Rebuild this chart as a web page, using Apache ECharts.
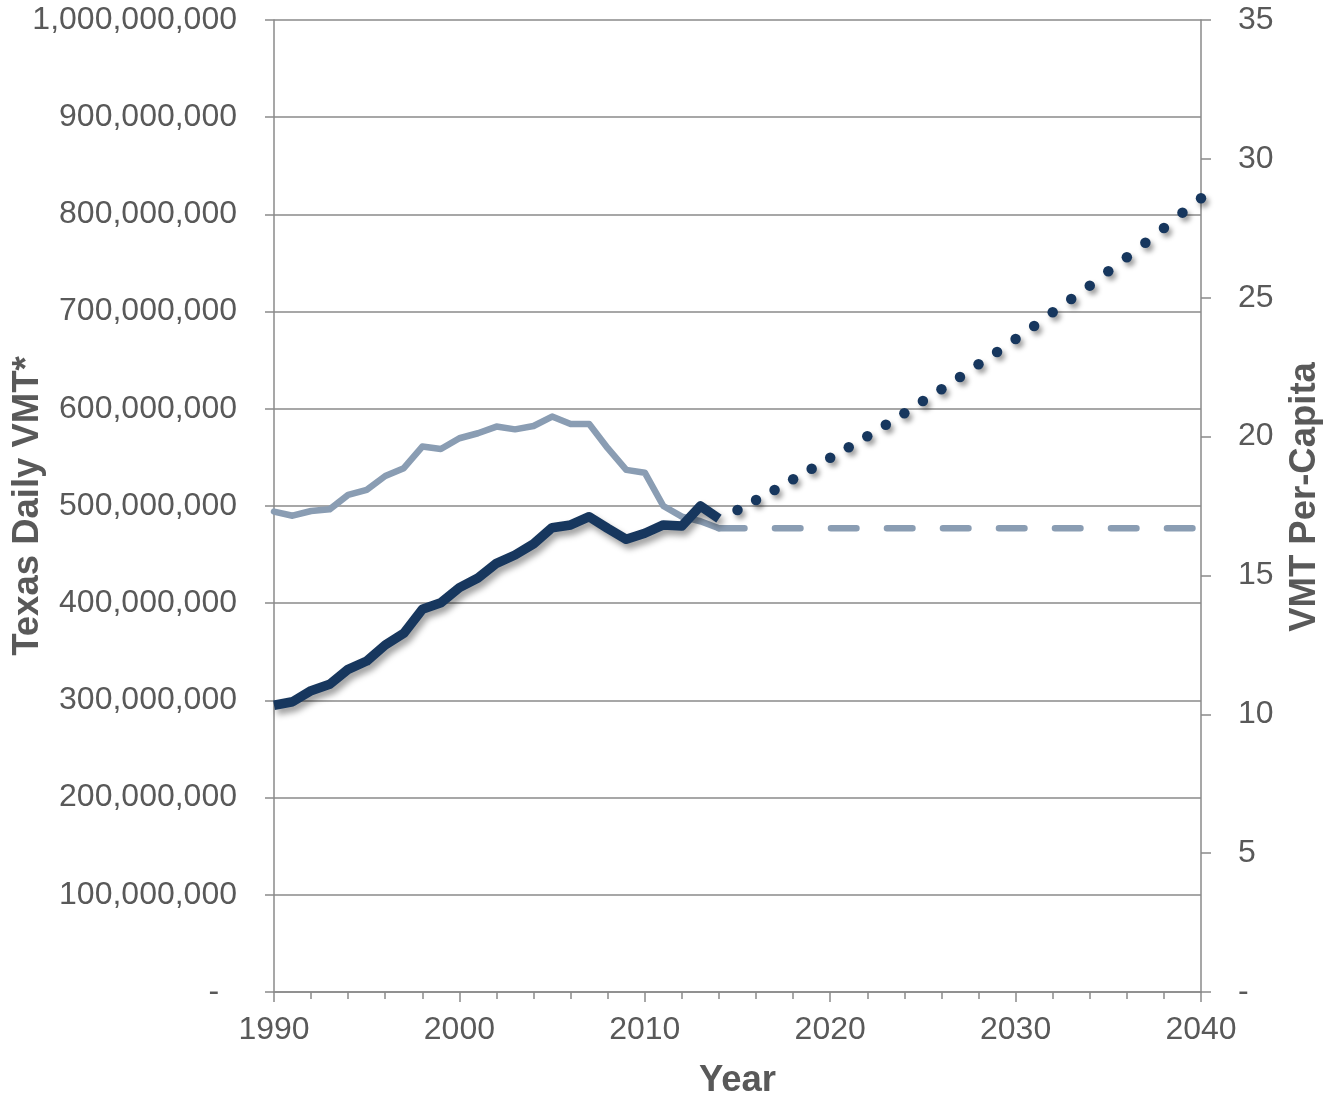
<!DOCTYPE html>
<html>
<head>
<meta charset="utf-8">
<title>Texas Daily VMT</title>
<script src="https://cdn.jsdelivr.net/npm/echarts@6/dist/echarts.min.js"></script>
<style>
  html, body { margin: 0; padding: 0; background: #ffffff; }
  #chart { width: 1326px; height: 1095px; }
</style>
</head>
<body>
<div id="chart"></div>
<script>
// Historical years
const years = [1990, 1991, 1992, 1993, 1994, 1995, 1996, 1997, 1998, 1999,
               2000, 2001, 2002, 2003, 2004, 2005, 2006, 2007, 2008, 2009,
               2010, 2011, 2012, 2013, 2014];
// Texas daily vehicle miles travelled, millions
const dailyVmtMillions = [295, 298.6, 310, 316.5, 332, 340.5, 357, 369, 393.7, 400.5,
                          416, 426, 441, 449.6, 461, 477.7, 480.5, 489, 477, 465.7,
                          472, 480.5, 479.4, 500, 487];
// Daily VMT per capita
const perCapita = [17.30, 17.15, 17.32, 17.38, 17.90, 18.08, 18.58, 18.86, 19.64, 19.55,
                   19.94, 20.12, 20.36, 20.26, 20.38, 20.72, 20.45, 20.45, 19.58, 18.80,
                   18.70, 17.50, 17.12, 16.95, 16.70];

// Projected daily VMT, millions
const projYears = [2015, 2016, 2017, 2018, 2019, 2020, 2021, 2022, 2023, 2024,
                   2025, 2026, 2027, 2028, 2029, 2030, 2031, 2032, 2033, 2034,
                   2035, 2036, 2037, 2038, 2039, 2040];
const projVmtMillions = [495.9, 506.2, 516.5, 527.5, 538.4, 549.7, 560.4, 571.7, 583.6, 595.4,
                         608.0, 620.1, 632.7, 645.8, 658.4, 671.8, 685.2, 699.3, 713.0, 726.7,
                         741.5, 755.9, 770.9, 786.0, 801.8, 816.6];

// Per-capita rate held flat over the projection period
const flatYears = [2014, 2040];
const flatPerCapita = [16.7, 16.7];

const DARK = '#17375E';
const LIGHT = '#8A9DB3';
const TEXT = '#595959';
const RULE = '#8A8A8A';
const FONT = '"Liberation Sans", Arial, sans-serif';

const pairs = (xs, ys, k) => xs.map((x, i) => [x, ys[i] * (k || 1)]);

const chart = echarts.init(document.getElementById('chart'), null, { renderer: 'canvas' });

chart.setOption({
  animation: false,
  backgroundColor: '#ffffff',
  grid: { left: 274, right: 125, top: 20, bottom: 103, containLabel: false, outerBoundsMode: 'none' },
  xAxis: {
    type: 'value',
    min: 1990, max: 2040, interval: 10,
    name: 'Year',
    nameLocation: 'middle',
    nameGap: 70,
    nameMoveOverlap: false,
    nameTextStyle: { color: TEXT, fontFamily: FONT, fontSize: 36.5, fontWeight: 'bold' },
    axisLine: { show: true, lineStyle: { color: RULE, width: 1.5 } },
    axisTick: { show: true, inside: false, length: 10, lineStyle: { color: RULE, width: 1.5 } },
    minorTick: { show: true, splitNumber: 5, length: 7, lineStyle: { color: RULE, width: 1.5 } },
    splitLine: { show: false },
    axisLabel: { color: TEXT, fontFamily: FONT, fontSize: 32, margin: 22,
                 formatter: v => String(v) }
  },
  yAxis: [
    {
      type: 'value',
      position: 'left',
      min: 0, max: 1000000000, interval: 100000000,
      name: 'Texas Daily VMT*',
      nameLocation: 'middle',
      nameRotate: 90,
      nameGap: 228,
      nameMoveOverlap: false,
      nameTextStyle: { color: TEXT, fontFamily: FONT, fontSize: 36.5, fontWeight: 'bold' },
      axisLine: { show: true, lineStyle: { color: RULE, width: 1.5 } },
      axisTick: { show: true, length: 9, lineStyle: { color: RULE, width: 1.5 } },
      splitLine: { show: true, lineStyle: { color: RULE, width: 1.5 } },
      axisLabel: {
        color: TEXT, fontFamily: FONT, fontSize: 32, margin: 37,
        formatter: v => v === 0 ? '-  ' : v.toLocaleString('en-US')
      }
    },
    {
      type: 'value',
      position: 'right',
      min: 0, max: 35, interval: 5,
      name: 'VMT Per-Capita',
      nameLocation: 'middle',
      nameRotate: 90,
      nameGap: 85,
      nameMoveOverlap: false,
      nameTextStyle: { color: TEXT, fontFamily: FONT, fontSize: 36.5, fontWeight: 'bold',
                       padding: [0, 0, 0, 18] },
      axisLine: { show: true, lineStyle: { color: RULE, width: 1.5 } },
      axisTick: { show: true, length: 10, lineStyle: { color: RULE, width: 1.5 } },
      splitLine: { show: false },
      axisLabel: {
        color: TEXT, fontFamily: FONT, fontSize: 32, margin: 37,
        formatter: v => v === 0 ? '-' : String(v)
      }
    }
  ],
  series: [
    {
      name: 'VMT Per-Capita',
      type: 'line',
      yAxisIndex: 1,
      data: pairs(years, perCapita),
      showSymbol: false,
      z: 2,
      lineStyle: { color: LIGHT, width: 6.5, join: 'round', cap: 'round' }
    },
    {
      name: 'VMT Per-Capita (projected)',
      type: 'line',
      yAxisIndex: 1,
      data: pairs(flatYears, flatPerCapita),
      showSymbol: false,
      z: 2,
      lineStyle: { color: LIGHT, width: 6.5, cap: 'round', type: [25.5, 30.5] }
    },
    {
      name: 'Texas Daily VMT',
      type: 'line',
      yAxisIndex: 0,
      data: pairs(years, dailyVmtMillions, 1e6),
      showSymbol: false,
      z: 3,
      lineStyle: {
        color: DARK, width: 9.5, join: 'round', cap: 'butt',
        shadowColor: 'rgba(0,0,0,0.38)', shadowBlur: 6, shadowOffsetX: 3, shadowOffsetY: 5
      }
    },
    {
      name: 'Texas Daily VMT (projected)',
      type: 'line',
      yAxisIndex: 0,
      data: pairs(projYears, projVmtMillions, 1e6),
      showSymbol: true,
      showAllSymbol: true,
      symbol: 'circle',
      symbolSize: 10.5,
      z: 3,
      lineStyle: { width: 0, opacity: 0 },
      itemStyle: {
        color: DARK, borderWidth: 0,
        shadowColor: 'rgba(0,0,0,0.38)', shadowBlur: 5, shadowOffsetX: 3, shadowOffsetY: 4
      }
    }
  ]
});
</script>
</body>
</html>
